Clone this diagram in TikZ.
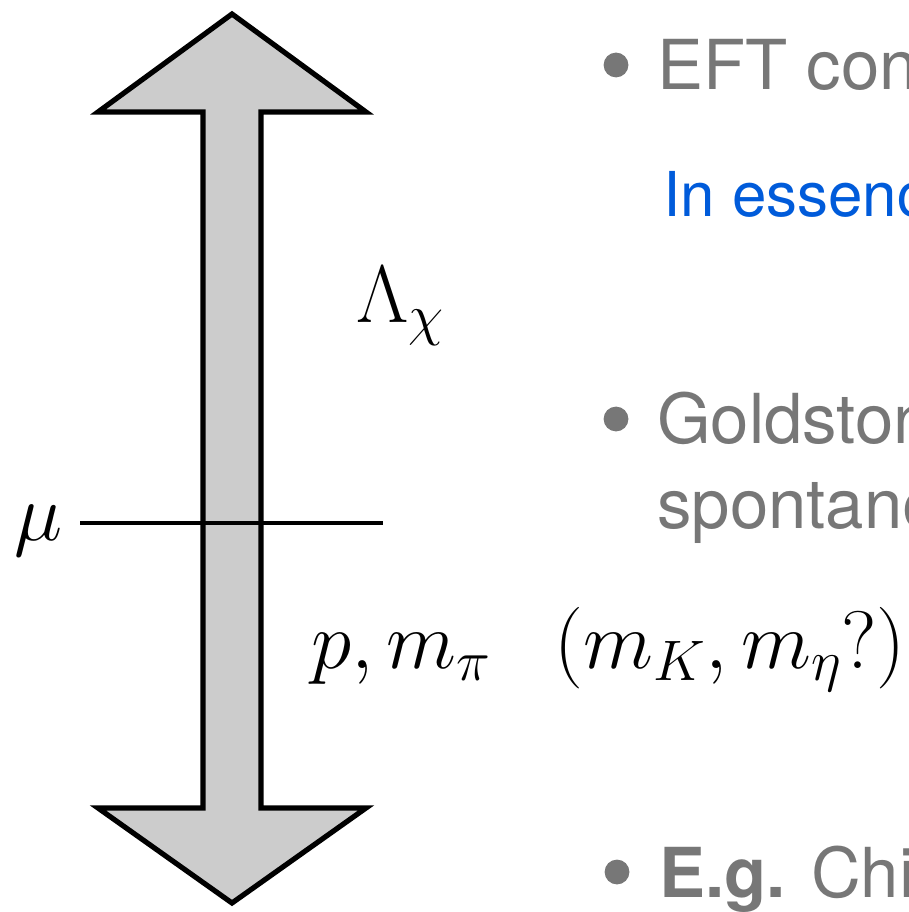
\RequirePackage{fix-cm}
\documentclass[tikz,border=0pt]{standalone}
\usepackage{fontspec}
\setsansfont{TeX Gyre Heros}
\usetikzlibrary{positioning}
\definecolor{slidegray}{RGB}{119,119,119}
\definecolor{slideblue}{RGB}{0,91,218}
\definecolor{shaftgray}{RGB}{204,204,204}

\begin{document}
\begin{tikzpicture}[
    x=0.025cm, y=-0.025cm,
    bigarrow/.style={draw, line width=0.13cm, line join=miter, fill=shaftgray},
    scaleline/.style={draw, line width=0.11cm},
    lbl/.style={font=\fontsize{58}{64}\selectfont, inner sep=0, anchor=base west},
    txt/.style={font=\sffamily\fontsize{49}{56}\selectfont, text=slidegray, inner sep=0, anchor=base west},
    note/.style={font=\sffamily\fontsize{44}{52}\selectfont, text=slideblue, inner sep=0, anchor=base west},
    dot/.style={circle, fill=slidegray, minimum size=0.62cm, inner sep=0}
  ]
  \useasboundingbox (0,0) rectangle (908,912);
  \clip (0,0) rectangle (908,912);

  % the energy scale arrow
  \draw[bigarrow] (232,14) -- (366,112) -- (261,112) -- (261,808) -- (366,808)
    -- (232,903) -- (98,808) -- (203,808) -- (203,112) -- (98,112) -- cycle;

  \node[lbl] (mu) at (14,540) {$\mu$};
  \coordinate (mustart) at (80,523);
  \coordinate (muend) at (383,523);
  \draw[scaleline] (mustart) -- (muend);

  \node[lbl] (lam) at (356,322) {$\Lambda_\chi$};
  \node[lbl] (scales) at (311,668) {$p, m_\pi\ \ \,(m_K, m_\eta?)$};

  % bullets on the right
  \node[dot] (b1) at (616,65) {};
  \node[txt] (eft) at (657,90) {EFT cons};
  \node[note] (ess) at (663,217) {In essence};
  \node[dot] (b2) at (616,419) {};
  \node[txt] (gold) at (657,443) {Goldstone};
  \node[txt] (spon) at (657,528) {spontane};
  \node[dot] (b3) at (617,872) {};
  \node[txt] (eg) at (659,897) {\textbf{E.g.} Chi};
\end{tikzpicture}
\end{document}
